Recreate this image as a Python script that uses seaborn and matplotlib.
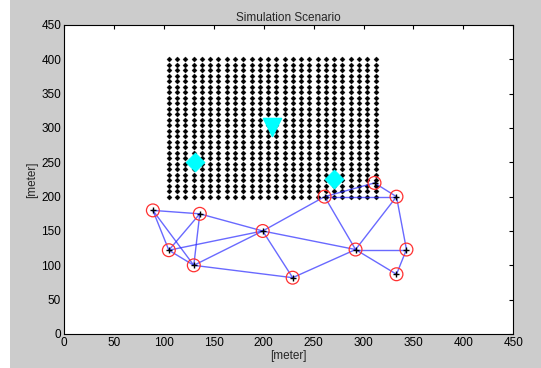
import numpy as np
import pandas as pd
import matplotlib
matplotlib.use("Agg")
import matplotlib.pyplot as plt
import seaborn as sns
from matplotlib.patches import Rectangle

# grid of target points (regular lattice)
grid_x0, grid_x1, grid_nx = 105, 312, 26
grid_y0, grid_y1, grid_ny = 200, 400, 26

# sensor nodes
node_x = [89, 136, 105, 130, 199, 229, 261, 311, 333, 292, 343, 333]
node_y = [180, 175, 122, 100, 150, 82, 200, 220, 200, 123, 123, 87]

# links between nodes (index pairs)
links = [(0, 1), (0, 2), (0, 3), (1, 2), (1, 3), (1, 4), (2, 3), (2, 4),
         (3, 4), (3, 5), (4, 5), (4, 6), (4, 9), (5, 9), (6, 7), (6, 8),
         (6, 9), (7, 8), (8, 9), (8, 10), (9, 10), (9, 11), (10, 11)]

# special points
diam_x = [131, 270]
diam_y = [250, 225]
tri_x = [208]
tri_y = [301]

sns.set_style("white")
plt.rcParams['font.family'] = ['Liberation Sans', 'DejaVu Sans']

fig = plt.figure(figsize=(5.41, 3.68), dpi=100)
fig.patch.set_facecolor('#cccccc')
fig.patches.append(Rectangle((0, 0), 10 / 541, 1, transform=fig.transFigure,
                             facecolor='white', edgecolor='none', zorder=0))
ax = fig.add_axes([0.1183, 0.0924, 0.8305, 0.8397])
ax.set_facecolor('white')

gx, gy = np.meshgrid(np.linspace(grid_x0, grid_x1, grid_nx),
                     np.linspace(grid_y0, grid_y1, grid_ny))
grid_df = pd.DataFrame({'x': gx.ravel(), 'y': gy.ravel()})
sns.scatterplot(data=grid_df, x='x', y='y', marker='D', s=7, color='black',
                edgecolor='black', linewidth=0.2, ax=ax, zorder=2)

for a, b in links:
    ax.plot([node_x[a], node_x[b]], [node_y[a], node_y[b]], color='#2a2aff',
            lw=1.0, alpha=0.7, zorder=3)

nodes = pd.DataFrame({'x': node_x, 'y': node_y})
sns.scatterplot(data=nodes, x='x', y='y', marker='o', s=85, facecolor='none',
                edgecolor='#ff3030', linewidth=0.9, ax=ax, zorder=4)
sns.scatterplot(data=nodes, x='x', y='y', marker='+', s=22, color='black',
                linewidth=1.0, ax=ax, zorder=5)

sns.scatterplot(x=diam_x, y=diam_y, marker='D', s=90, color='cyan',
                edgecolor='cyan', ax=ax, zorder=6)
sns.scatterplot(x=tri_x, y=tri_y, marker='v', s=170, color='cyan',
                edgecolor='cyan', ax=ax, zorder=6)

ax.set_xlim(0, 450)
ax.set_ylim(0, 450)
ax.set_xticks(np.arange(0, 451, 50))
ax.set_yticks(np.arange(0, 451, 50))
ax.tick_params(direction='in', length=3, width=0.8, labelsize=8.5,
               top=True, right=True, colors='black', pad=2)
for s in ax.spines.values():
    s.set_visible(True)
    s.set_color('black')
    s.set_linewidth(0.8)
ax.set_xlabel('[meter]', fontsize=8.5, labelpad=1)
ax.set_ylabel('[meter]', fontsize=8.5, labelpad=2)
ax.set_title('Simulation Scenario', fontsize=8.5, pad=3)

fig.savefig('out.png', dpi=100, facecolor=fig.get_facecolor())
